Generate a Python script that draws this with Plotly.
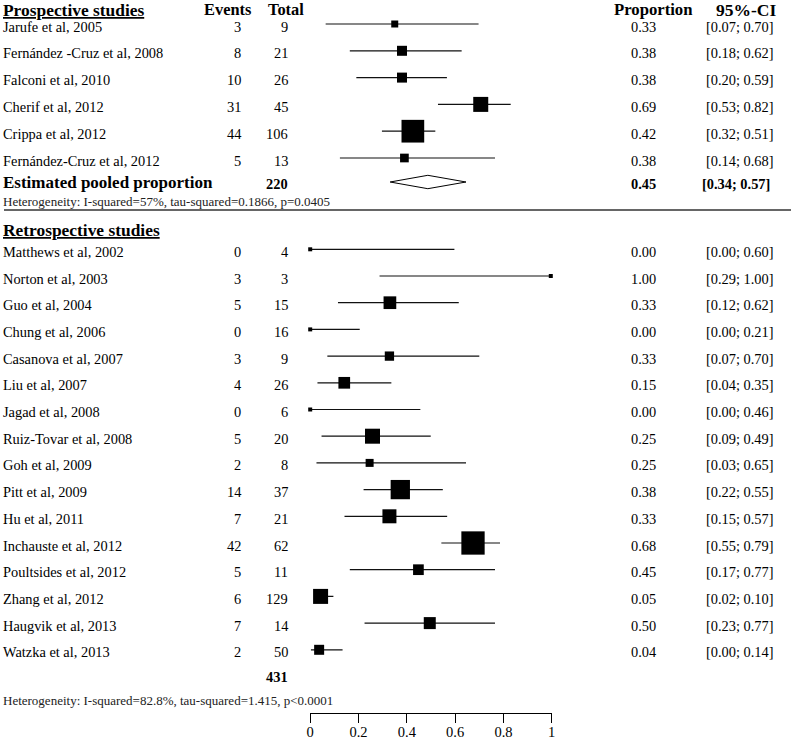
import plotly.graph_objects as go

# ---------------- data ----------------
pro_studies = ["Jarufe et al, 2005", "Fernández -Cruz et al, 2008", "Falconi et al, 2010",
               "Cherif et al, 2012", "Crippa et al, 2012", "Fernández-Cruz et al, 2012"]
pro_events = [3, 8, 10, 31, 44, 5]
pro_total = [9, 21, 26, 45, 106, 13]
pro_prop_txt = ["0.33", "0.38", "0.38", "0.69", "0.42", "0.38"]
pro_ci_txt = ["[0.07; 0.70]", "[0.18; 0.62]", "[0.20; 0.59]", "[0.53; 0.82]", "[0.32; 0.51]", "[0.14; 0.68]"]
# drawn positions
pro_est = [0.35, 0.38, 0.38, 0.706, 0.425, 0.39]
pro_lo = [0.064, 0.164, 0.191, 0.529, 0.297, 0.123]
pro_hi = [0.697, 0.627, 0.566, 0.83, 0.518, 0.765]
pro_box = [7, 10, 10, 15, 22.7, 8.7]

pooled_total = 220
pooled_prop_txt = "0.45"
pooled_ci_txt = "[0.34; 0.57]"
pooled_est, pooled_lo, pooled_hi = 0.487, 0.331, 0.645
pro_het = "Heterogeneity: I-squared=57%, tau-squared=0.1866, p=0.0405"

ret_studies = ["Matthews et al, 2002", "Norton et al, 2003", "Guo et al, 2004", "Chung et al, 2006",
               "Casanova et al, 2007", "Liu et al, 2007", "Jagad et al, 2008", "Ruiz-Tovar et al, 2008",
               "Goh et al, 2009", "Pitt et al, 2009", "Hu et al, 2011", "Inchauste et al, 2012",
               "Poultsides et al, 2012", "Zhang et al, 2012", "Haugvik et al, 2013", "Watzka et al, 2013"]
ret_events = [0, 3, 5, 0, 3, 4, 0, 5, 2, 14, 7, 42, 5, 6, 7, 2]
ret_total = [4, 3, 15, 16, 9, 26, 6, 20, 8, 37, 21, 62, 11, 129, 14, 50]
ret_prop_txt = ["0.00", "1.00", "0.33", "0.00", "0.33", "0.15", "0.00", "0.25", "0.25", "0.38",
                "0.33", "0.68", "0.45", "0.05", "0.50", "0.04"]
ret_ci_txt = ["[0.00; 0.60]", "[0.29; 1.00]", "[0.12; 0.62]", "[0.00; 0.21]", "[0.07; 0.70]",
              "[0.04; 0.35]", "[0.00; 0.46]", "[0.09; 0.49]", "[0.03; 0.65]", "[0.22; 0.55]",
              "[0.15; 0.57]", "[0.55; 0.79]", "[0.17; 0.77]", "[0.02; 0.10]", "[0.23; 0.77]",
              "[0.00; 0.14]"]
ret_est = [0.0, 0.996, 0.33, 0.0, 0.328, 0.141, 0.0, 0.258, 0.246, 0.373, 0.328, 0.674, 0.448, 0.043, 0.495, 0.037]
ret_lo = [0.0, 0.287, 0.115, 0.0, 0.071, 0.03, 0.0, 0.047, 0.026, 0.221, 0.142, 0.543, 0.164, 0.02, 0.225, 0.003]
ret_hi = [0.597, 0.996, 0.615, 0.205, 0.70, 0.336, 0.456, 0.499, 0.645, 0.549, 0.567, 0.786, 0.765, 0.096, 0.765, 0.134]
ret_box = [4, 4, 12.7, 4, 9.3, 11.7, 4, 15, 8, 19.3, 14, 23.3, 10.7, 15, 12, 10]
ret_total_sum = 431
ret_het = "Heterogeneity: I-squared=82.8%, tau-squared=1.415, p<0.0001"

tick_vals = [0, 0.2, 0.4, 0.6, 0.8, 1]
tick_text = ["0", "0.2", "0.4", "0.6", "0.8", "1"]

# ---------------- layout helpers ----------------
W, H = 798, 744
SERIF = "Liberation Serif, Times New Roman, serif"
pro_y = [24 + i * 26.8 for i in range(len(pro_studies))]
pooled_y = 182
ret_y = [249.3 + i * 26.7 for i in range(len(ret_studies))]
LEFT = -1.5
TXT_DY = 2.5

annotations = []


def txt(x, y, s, size=14.4, anchor="left", bold=False, under=False, color="black"):
    font = dict(family=SERIF, size=size, color=color)
    if bold:
        font["weight"] = "bold"
    if under:
        font["lineposition"] = "under"
    annotations.append(dict(x=x / W, y=y, xref="paper", yref="y", text=s, showarrow=False,
                            xanchor=anchor, yanchor="middle", font=font,
                            borderpad=0, borderwidth=0))


# column headers
txt(LEFT, 9.5, "Prospective studies", size=17.4, bold=True, under=True)
txt(226, 9.5, "Events", size=16.4, anchor="center", bold=True)
txt(285, 9.5, "Total", size=16.4, anchor="center", bold=True)
txt(656, 9.5, "Proportion", size=16.7, anchor="center", bold=True)
txt(780, 9.5, "95%-CI", size=17.5, anchor="right", bold=True)


def rows(names, ev, tot, ptxt, citxt, ys):
    for n, e, t, p, c, y in zip(names, ev, tot, ptxt, citxt, ys):
        txt(LEFT, y + TXT_DY, n)
        txt(239, y + TXT_DY, str(e), anchor="right")
        txt(287, y + TXT_DY, str(t), anchor="right")
        txt(659, y + TXT_DY, p, anchor="right")
        txt(778, y + TXT_DY, c, anchor="right")


rows(pro_studies, pro_events, pro_total, pro_prop_txt, pro_ci_txt, pro_y)
txt(LEFT, pooled_y, "Estimated pooled proportion", size=17, bold=True)
txt(287, pooled_y + 1.5, str(pooled_total), anchor="right", bold=True)
txt(659, pooled_y + 1.5, pooled_prop_txt, anchor="right", bold=True)
txt(774, pooled_y + 1.5, pooled_ci_txt, anchor="right", bold=True)
txt(LEFT, 201.5, pro_het, size=13, color="#222")

txt(LEFT, 230, "Retrospective studies", size=17.4, bold=True, under=True)
rows(ret_studies, ret_events, ret_total, ret_prop_txt, ret_ci_txt, ret_y)
txt(287, 677, str(ret_total_sum), anchor="right", bold=True)
txt(LEFT, 700, ret_het, size=13, color="#222")

# ---------------- traces ----------------
all_lo = pro_lo + ret_lo
all_hi = pro_hi + ret_hi
all_est = pro_est + ret_est
all_y = pro_y + ret_y
all_box = pro_box + ret_box

lx, ly = [], []
for lo, hi, y in zip(all_lo, all_hi, all_y):
    lx += [lo, hi, None]
    ly += [y, y, None]

fig = go.Figure()
fig.add_trace(go.Scatter(x=lx, y=ly, mode="lines", line=dict(color="#111", width=1.2),
                         hoverinfo="skip", cliponaxis=False))
fig.add_trace(go.Scatter(x=all_est, y=all_y, mode="markers",
                         marker=dict(symbol="square", size=all_box, color="black", opacity=1,
                                     line=dict(width=0)),
                         hoverinfo="skip", cliponaxis=False))
dh = 6.7
fig.add_trace(go.Scatter(x=[pooled_lo, pooled_est, pooled_hi, pooled_est, pooled_lo],
                         y=[pooled_y, pooled_y - dh, pooled_y, pooled_y + dh, pooled_y],
                         mode="lines", fill="toself", fillcolor="white",
                         line=dict(color="black", width=1), hoverinfo="skip", cliponaxis=False))

fig.update_layout(
    width=W, height=H, margin=dict(l=0, r=0, t=0, b=0),
    paper_bgcolor="white", plot_bgcolor="white", showlegend=False,
    xaxis=dict(domain=[309.3 / W, 553.3 / W], range=[0, 1], tickvals=tick_vals, ticktext=tick_text,
               showline=True, linecolor="black", linewidth=1, ticks="outside", ticklen=9,
               tickcolor="black", tickwidth=1, showgrid=False, zeroline=False,
               tickfont=dict(family=SERIF, size=14.5, color="black"), ticklabelstandoff=-3,
               anchor="free", position=(H - 713) / H, fixedrange=True),
    yaxis=dict(domain=[0, 1], range=[H, 0], visible=False, fixedrange=True),
    annotations=annotations,
    shapes=[dict(type="line", xref="paper", yref="y", x0=0, x1=795 / W, y0=210, y1=210,
                 line=dict(color="#333", width=1.5))],
)

fig.write_html("out.html", config={"displayModeBar": False},
               post_script="document.body.style.margin='0px';document.body.style.overflow='hidden';")
